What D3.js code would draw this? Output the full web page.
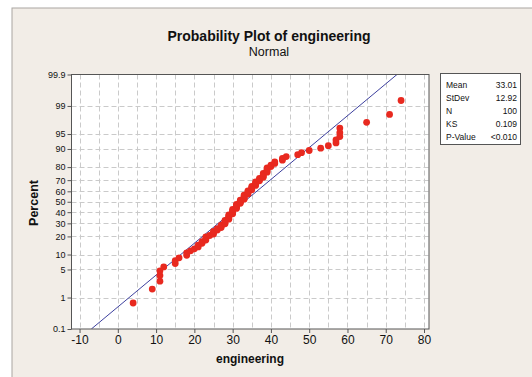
<html>
<head>
<meta charset="utf-8">
<script src="https://d3js.org/d3.v7.min.js"></script>
<style type="text/css">
    body { margin: 0; background: #fff; }
    svg { display: block; }
    text { font-family: "Liberation Sans", Arial, sans-serif; fill: #111; }
</style>
</head>
<body>
<svg id="chart" width="532" height="377"></svg>
<script type="text/javascript">

// sorted engineering scores (n = 100)
const engineering = [
    4, 9, 11, 11, 11, 12, 15, 15, 16, 18,
    18, 19, 20, 21, 21, 22, 22, 23, 23, 23,
    24, 25, 25, 25, 26, 26, 27, 27, 27, 28,
    28, 28, 28, 29, 29, 29, 29, 29, 30, 30,
    30, 30, 30, 31, 31, 31, 31, 31, 32, 32,
    32, 32, 33, 33, 33, 33, 33, 34, 34, 34,
    34, 35, 35, 35, 35, 36, 36, 36, 36, 37,
    37, 37, 38, 38, 38, 38, 39, 39, 39, 39,
    40, 40, 41, 41, 43, 43, 44, 47, 48, 50,
    53, 55, 57, 57, 58, 58, 58, 65, 71, 74
];

const statLabels = ["Mean", "StDev", "N", "KS", "P-Value"];
const statValues = ["33.01", "12.92", "100", "0.109", "<0.010"];
const fitMean = 33.01;
const fitStDev = 12.92;

const xTicks = [-10, 0, 10, 20, 30, 40, 50, 60, 70, 80];
const xGrid = d3.range(-10, 81, 5);
const yTicks = [0.1, 1, 5, 10, 20, 30, 40, 50, 60, 70, 80, 90, 95, 99, 99.9];

// inverse normal cdf (Acklam)
function probit(p) {
    const a = [-39.6968302866538, 220.946098424521, -275.928510446969, 138.357751867269, -30.6647980661472, 2.50662827745924];
    const b = [-54.4760987982241, 161.585836858041, -155.698979859887, 66.8013118877197, -13.2806815528857];
    const c = [-0.00778489400243029, -0.322396458041136, -2.40075827716184, -2.54973253934373, 4.37466414146497, 2.93816398269878];
    const d = [0.00778469570904146, 0.32246712907004, 2.445134137143, 3.75440866190742];
    const pl = 0.02425;
    let q, r;
    if (p < pl) {
        q = Math.sqrt(-2 * Math.log(p));
        return (((((c[0]*q+c[1])*q+c[2])*q+c[3])*q+c[4])*q+c[5]) / ((((d[0]*q+d[1])*q+d[2])*q+d[3])*q+1);
    }
    if (p > 1 - pl) {
        q = Math.sqrt(-2 * Math.log(1 - p));
        return -(((((c[0]*q+c[1])*q+c[2])*q+c[3])*q+c[4])*q+c[5]) / ((((d[0]*q+d[1])*q+d[2])*q+d[3])*q+1);
    }
    q = p - 0.5;
    r = q * q;
    return (((((a[0]*r+a[1])*r+a[2])*r+a[3])*r+a[4])*r+a[5])*q / (((((b[0]*r+b[1])*r+b[2])*r+b[3])*r+b[4])*r+1);
}

const svg = d3.select("#chart");

// panel
svg.append("rect")
    .attr("x", 12).attr("y", 8)
    .attr("width", 540).attr("height", 400)
    .attr("fill", "#f2ede7")
    .attr("stroke", "#a9a6a2")
    .attr("stroke-width", 1);

const plotLeft = 71.5, plotRight = 429, plotTop = 74.5, plotBottom = 329;

const x = d3.scaleLinear().domain([-12.1, 81.3]).range([plotLeft, plotRight]);
const zMax = probit(0.999);
const y = d3.scaleLinear().domain([-zMax, zMax]).range([plotBottom, plotTop]);
const yp = p => y(probit(p / 100));

// plot background
svg.append("rect")
    .attr("x", plotLeft).attr("y", plotTop)
    .attr("width", plotRight - plotLeft).attr("height", plotBottom - plotTop)
    .attr("fill", "#fff");

// grid
const grid = svg.append("g")
    .attr("stroke", "#cacaca")
    .attr("stroke-width", 1)
    .attr("stroke-dasharray", "5,3");

grid.selectAll(".vg")
    .data(xGrid)
    .join("line")
    .attr("x1", d => Math.round(x(d)) + 0.5)
    .attr("x2", d => Math.round(x(d)) + 0.5)
    .attr("y1", plotTop).attr("y2", plotBottom);

grid.selectAll(".hg")
    .data(yTicks.slice(1, -1))
    .join("line")
    .attr("y1", d => Math.round(yp(d)) + 0.5)
    .attr("y2", d => Math.round(yp(d)) + 0.5)
    .attr("x1", plotLeft).attr("x2", plotRight);

// fitted line
svg.append("clipPath").attr("id", "clip")
    .append("rect")
    .attr("x", plotLeft).attr("y", plotTop)
    .attr("width", plotRight - plotLeft).attr("height", plotBottom - plotTop);

svg.append("line")
    .attr("clip-path", "url(#clip)")
    .attr("x1", x(fitMean - zMax * fitStDev))
    .attr("y1", y(-zMax))
    .attr("x2", x(fitMean + zMax * fitStDev))
    .attr("y2", y(zMax))
    .attr("stroke", "#3d409e")
    .attr("stroke-width", 1);

// points at median ranks
const n = engineering.length;
svg.append("g")
    .selectAll("circle")
    .data(engineering)
    .join("circle")
    .attr("cx", d => x(d))
    .attr("cy", (d, i) => y(probit((i + 1 - 0.3) / (n + 0.4))))
    .attr("r", 3.4)
    .attr("fill", "#e8291f");

// frame
svg.append("rect")
    .attr("x", plotLeft).attr("y", plotTop)
    .attr("width", plotRight - plotLeft).attr("height", plotBottom - plotTop)
    .attr("fill", "none")
    .attr("stroke", "#555")
    .attr("stroke-width", 1);

// axes
const xAxis = svg.append("g")
    .attr("transform", `translate(0,${plotBottom})`)
    .call(d3.axisBottom(x).tickValues(xTicks).tickFormat(d => String(d))
        .tickSize(4).tickPadding(2).tickSizeOuter(0));
xAxis.select(".domain").remove();
xAxis.selectAll("line").attr("stroke", "#555");
xAxis.selectAll("text").attr("font-size", 12).attr("font-family", "Liberation Sans").attr("fill", "#111");

const yAxis = svg.append("g")
    .attr("transform", `translate(${plotLeft},0)`)
    .call(d3.axisLeft(y).tickValues(yTicks.map(p => probit(p / 100)))
        .tickFormat((d, i) => yTicks[i]).tickSize(4).tickPadding(2).tickSizeOuter(0));
yAxis.select(".domain").remove();
yAxis.selectAll("line").attr("stroke", "#555");
yAxis.selectAll("text").attr("font-size", 9).attr("font-family", "Liberation Sans").attr("fill", "#111");

// titles
svg.append("text")
    .attr("x", 269).attr("y", 41)
    .attr("text-anchor", "middle")
    .attr("font-size", 14).attr("font-weight", "bold")
    .text("Probability Plot of engineering");

svg.append("text")
    .attr("x", 269).attr("y", 56)
    .attr("text-anchor", "middle")
    .attr("font-size", 12.5)
    .text("Normal");

svg.append("text")
    .attr("x", 250).attr("y", 363)
    .attr("text-anchor", "middle")
    .attr("font-size", 12).attr("font-weight", "bold")
    .text("engineering");

svg.append("text")
    .attr("transform", "translate(38,203) rotate(-90)")
    .attr("text-anchor", "middle")
    .attr("font-size", 12.5).attr("font-weight", "bold")
    .text("Percent");

// stats box
const box = svg.append("g");
box.append("rect")
    .attr("x", 440.5).attr("y", 73.5)
    .attr("width", 80).attr("height", 71)
    .attr("fill", "#fff")
    .attr("stroke", "#555");

box.selectAll(".sl")
    .data(statLabels)
    .join("text")
    .attr("x", 446)
    .attr("y", (d, i) => 88 + i * 13)
    .attr("font-size", 8.5)
    .text(d => d);

box.selectAll(".sv")
    .data(statValues)
    .join("text")
    .attr("x", 517)
    .attr("y", (d, i) => 88 + i * 13)
    .attr("text-anchor", "end")
    .attr("font-size", 8.5)
    .text(d => d);

</script>
</body>
</html>
